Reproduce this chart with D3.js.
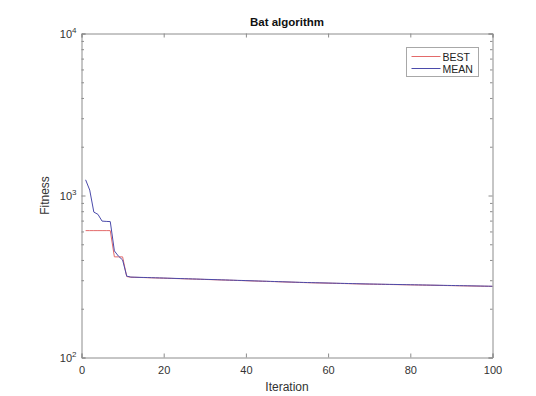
<!DOCTYPE html>
<html>
<head>
<meta charset="utf-8">
<script src="https://cdn.jsdelivr.net/npm/d3@7"></script>
<style>
  html, body { margin: 0; padding: 0; background: #fff; }
  svg { display: block; font-family: "Liberation Sans", Arial, Helvetica, sans-serif; }
</style>
</head>
<body>
<svg id="chart" width="536" height="396"></svg>
<script>
// Convergence history of the bat algorithm (fitness per iteration)
const iterations = d3.range(1, 101);

const bestFitness = [
  607, 607, 607, 607, 607, 607, 607, 418, 418, 418,
  316, 313, 312.5, 312, 311.5, 311, 310.4, 309.9, 309.3, 308.8,
  308.2, 307.7, 307.1, 306.6, 306.0, 305.5, 304.9, 304.4, 303.8, 303.2,
  302.7, 302.1, 301.6, 301.0, 300.5, 299.9, 299.4, 298.8, 298.3, 297.7,
  297.2, 296.6, 296.1, 295.5, 295.0, 294.4, 293.9, 293.3, 292.8, 292.2,
  291.7, 291.1, 290.6, 290.1, 289.6, 289.2, 288.8, 288.4, 288.0, 287.6,
  287.2, 286.8, 286.4, 286.0, 285.6, 285.2, 284.8, 284.4, 284.0, 283.7,
  283.4, 283.1, 282.8, 282.5, 282.2, 281.9, 281.6, 281.3, 281.0, 280.7,
  280.4, 280.1, 279.8, 279.5, 279.2, 278.9, 278.6, 278.3, 278.0, 277.7,
  277.4, 277.1, 276.8, 276.5, 276.2, 275.9, 275.6, 275.3, 275.0, 274.7
];

const meanFitness = [
  1250, 1080, 790, 765, 695, 692, 690, 455, 422, 400,
  318, 313.6, 313.1, 312.5, 312.0, 311.6, 311.0, 310.4, 309.9, 309.4,
  308.8, 308.3, 307.7, 307.2, 306.6, 306.1, 305.5, 305.0, 304.4, 303.8,
  303.3, 302.7, 302.2, 301.6, 301.1, 300.5, 300.0, 299.4, 298.9, 298.3,
  297.8, 297.2, 296.7, 296.1, 295.6, 295.0, 294.5, 293.9, 293.4, 292.8,
  292.3, 291.7, 291.2, 290.7, 290.2, 289.8, 289.4, 289.0, 288.6, 288.2,
  287.8, 287.4, 287.0, 286.6, 286.2, 285.8, 285.4, 285.0, 284.6, 284.3,
  284.0, 283.7, 283.4, 283.1, 282.8, 282.5, 282.2, 281.9, 281.6, 281.3,
  281.0, 280.7, 280.4, 280.1, 279.8, 279.5, 279.2, 278.9, 278.6, 278.3,
  278.0, 277.7, 277.4, 277.1, 276.8, 276.5, 276.2, 275.9, 275.6, 275.3
];

const xTicks = [0, 20, 40, 60, 80, 100];
const yMajorTicks = [100, 1000, 10000];
const yExponents = ["2", "3", "4"];
const seriesNames = ["BEST", "MEAN"];
const seriesColors = ["#e36a6a", "#4b4bab"];

const titleText = "Bat algorithm";
const xLabelText = "Iteration";
const yLabelText = "Fitness";

const svg = d3.select("#chart");
const margin = { left: 81.5, right: 43.5, top: 33.5, bottom: 38.5 };
const W = 536, H = 396;
const innerW = W - margin.left - margin.right;
const innerH = H - margin.top - margin.bottom;

const x = d3.scaleLinear().domain([0, 100]).range([margin.left, margin.left + innerW]);
const y = d3.scaleLog().domain([100, 10000]).range([margin.top + innerH, margin.top]);

const axisColor = "#8c8c8c";
const textColor = "#333";
const tickLen = 4;

// minor log ticks
const yMinor = [];
[100, 1000].forEach(d => { for (let k = 2; k <= 9; k++) yMinor.push(d * k); });

const g = svg.append("g");

// data lines (best first, mean drawn on top)
const line = d3.line()
  .x((d, i) => x(iterations[i]))
  .y(d => y(d));

g.append("path").datum(bestFitness)
  .attr("fill", "none").attr("stroke", seriesColors[0]).attr("stroke-width", 1)
  .attr("d", line);
g.append("path").datum(meanFitness)
  .attr("fill", "none").attr("stroke", seriesColors[1]).attr("stroke-width", 1)
  .attr("d", line);

// axes box with inward ticks
const bottomAxis = d3.axisBottom(x).tickValues(xTicks).tickSize(-tickLen).tickPadding(9).tickFormat(d3.format("d"));
const topAxis = d3.axisTop(x).tickValues(xTicks).tickSize(-tickLen).tickFormat("");
const leftAxis = d3.axisLeft(y).tickValues(yMajorTicks).tickSize(-tickLen).tickFormat("");
const rightAxis = d3.axisRight(y).tickValues(yMajorTicks).tickSize(-tickLen).tickFormat("");
const leftMinor = d3.axisLeft(y).tickValues(yMinor).tickSize(-2.5).tickFormat("");
const rightMinor = d3.axisRight(y).tickValues(yMinor).tickSize(-2.5).tickFormat("");

function styleAxis(sel) {
  sel.selectAll("path").attr("stroke", axisColor).attr("stroke-width", 1);
  sel.selectAll("line").attr("stroke", axisColor).attr("stroke-width", 1);
  sel.selectAll("text").attr("fill", textColor).attr("font-size", 11)
    .attr("font-family", "Liberation Sans, Arial, sans-serif");
}

svg.append("g").attr("transform", `translate(0,${margin.top + innerH})`).call(bottomAxis).call(styleAxis);
svg.append("g").attr("transform", `translate(0,${margin.top})`).call(topAxis).call(styleAxis);
svg.append("g").attr("transform", `translate(${margin.left},0)`).call(leftAxis).call(styleAxis);
svg.append("g").attr("transform", `translate(${margin.left + innerW},0)`).call(rightAxis).call(styleAxis);
svg.append("g").attr("transform", `translate(${margin.left},0)`).call(leftMinor).call(styleAxis)
  .select(".domain").remove();
svg.append("g").attr("transform", `translate(${margin.left + innerW},0)`).call(rightMinor).call(styleAxis)
  .select(".domain").remove();

// y tick labels as 10^n
yMajorTicks.forEach((v, i) => {
  const t = svg.append("text")
    .attr("x", margin.left - 5)
    .attr("y", y(v) + 4)
    .attr("text-anchor", "end")
    .attr("fill", textColor)
    .attr("font-size", 11);
  t.append("tspan").text("10");
  t.append("tspan").attr("font-size", 8).attr("dy", -5).text(yExponents[i]);
});

// title and axis labels
svg.append("text")
  .attr("x", margin.left + innerW / 2).attr("y", 26)
  .attr("text-anchor", "middle").attr("font-weight", "bold")
  .attr("font-size", 11.5).attr("fill", "#111").text(titleText);

svg.append("text")
  .attr("x", margin.left + innerW / 2).attr("y", 391)
  .attr("text-anchor", "middle").attr("font-size", 12)
  .attr("fill", textColor).text(xLabelText);

svg.append("text")
  .attr("transform", `translate(49,${margin.top + innerH / 2}) rotate(-90)`)
  .attr("text-anchor", "middle").attr("font-size", 12)
  .attr("fill", textColor).text(yLabelText);

// legend
const lg = svg.append("g").attr("transform", "translate(406.5,47.5)");
lg.append("rect").attr("width", 72).attr("height", 29)
  .attr("fill", "#fff").attr("stroke", "#a8a8a8").attr("stroke-width", 1);
seriesNames.forEach((name, i) => {
  const yy = 9 + i * 12;
  lg.append("line").attr("x1", 5).attr("x2", 34).attr("y1", yy).attr("y2", yy)
    .attr("stroke", seriesColors[i]).attr("stroke-width", 1);
  lg.append("text").attr("x", 36).attr("y", yy + 4)
    .attr("font-size", 10.5).attr("fill", "#222").text(name);
});
</script>
</body>
</html>
